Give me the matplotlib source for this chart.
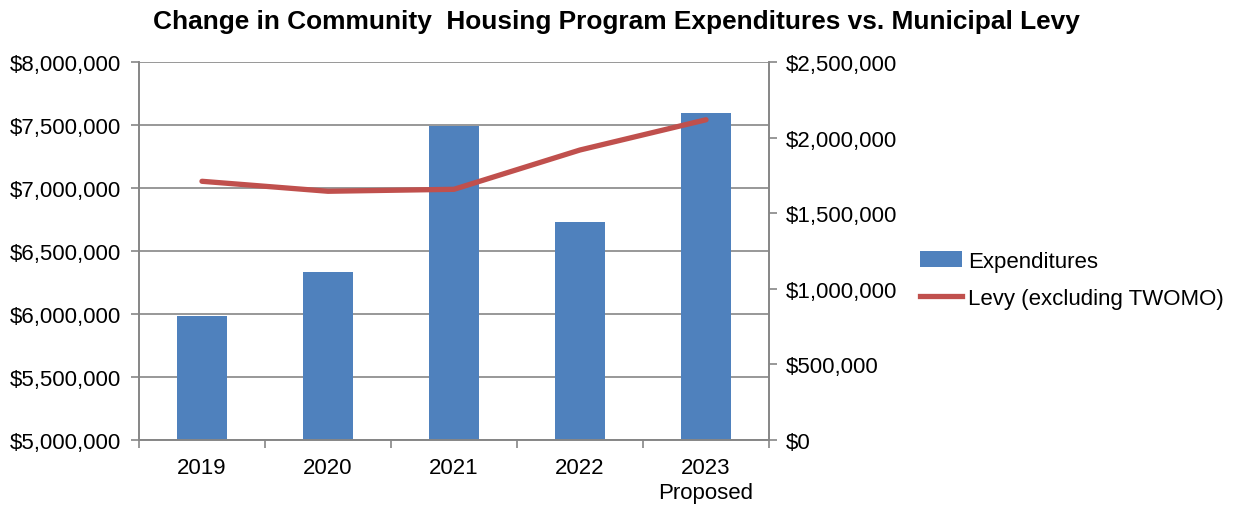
import matplotlib.pyplot as plt
from matplotlib.ticker import FuncFormatter
from matplotlib.patches import Patch
from matplotlib.lines import Line2D

plt.rcParams["font.family"] = ["Liberation Sans", "DejaVu Sans"]

years = ["2019", "2020", "2021", "2022", "2023\nProposed"]
expenditures = [5985000, 6331000, 7495000, 6733000, 7598000]
levy = [1711000, 1645000, 1658000, 1918000, 2118000]

blue = "#4F81BD"
red = "#C0504D"
grey = "#868686"

fig = plt.figure(figsize=(12.33, 5.06), dpi=100)
ax = fig.add_axes([0.1127, 0.1285, 0.511, 0.747])
ax2 = ax.twinx()

x = list(range(len(years)))
ax.bar(x, expenditures, width=0.4, color=blue, zorder=2)
ax2.plot(x, levy, color=red, linewidth=3.8, solid_capstyle="round", zorder=3)

ax.set_xlim(-0.5, len(years) - 0.5)
ax.set_ylim(5000000, 8000000)
ax2.set_ylim(0, 2500000)
ax.set_yticks(range(5000000, 8000001, 500000))
ax2.set_yticks(range(0, 2500001, 500000))

money = FuncFormatter(lambda v, p: f"${v:,.0f}")
ax.yaxis.set_major_formatter(money)
ax2.yaxis.set_major_formatter(money)

fs = 16
ax.set_xticks(x)
ax.set_xticklabels(years, linespacing=1.25)
ax.set_xticks([i - 0.5 for i in range(len(years) + 1)], minor=True)
ax.tick_params(axis="x", which="major", length=0, pad=12, labelsize=fs)
ax.tick_params(axis="x", which="minor", length=6, color=grey, width=1.2)
ax.tick_params(axis="y", length=6, color=grey, width=1.2, labelsize=fs, pad=7)
ax2.tick_params(axis="y", length=6, color=grey, width=1.2, labelsize=fs, pad=6)

ax.yaxis.grid(True, color=grey, linewidth=1.2, zorder=0)
ax.set_axisbelow(True)
for a in (ax, ax2):
    for s in a.spines.values():
        s.set_color(grey)
        s.set_linewidth(1.2)
ax.spines["top"].set_visible(False)
ax2.spines["top"].set_visible(False)

fig.suptitle("Change in Community  Housing Program Expenditures vs. Municipal Levy",
             x=0.5, y=0.98, fontsize=18.9, fontweight="bold")

handles = [Patch(facecolor=blue, edgecolor="none"),
           Line2D([0], [0], color=red, linewidth=3.8)]
fig.legend(handles, ["Expenditures", "Levy (excluding TWOMO)"],
           loc="center left", bbox_to_anchor=(0.730, 0.445), frameon=False,
           fontsize=16, handlelength=1.9, handletextpad=0.25, labelspacing=0.7)

fig.savefig("out.png", dpi=100)
